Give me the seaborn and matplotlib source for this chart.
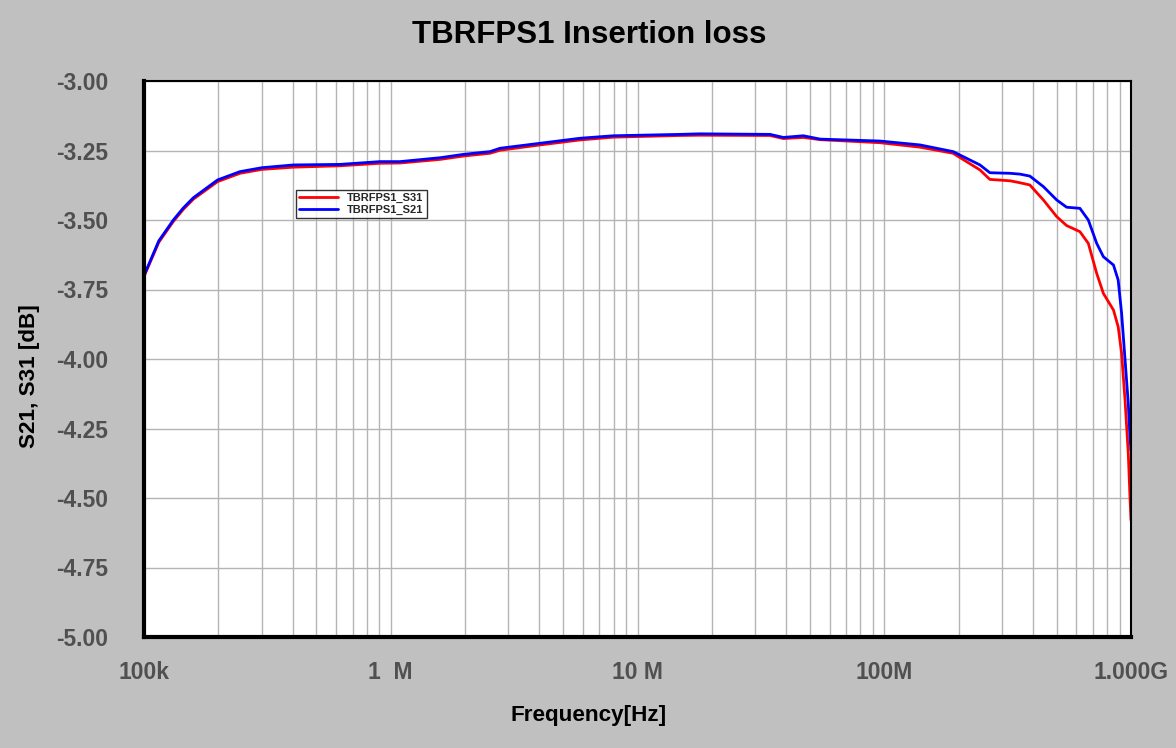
import seaborn as sns
import matplotlib.pyplot as plt
import pandas as pd
import numpy as np

sns.set_style("whitegrid")
plt.rcParams['font.family'] = ['Liberation Sans', 'DejaVu Sans']

# frequency points as log10(Hz)
log_freq = [5.000, 5.060, 5.119, 5.159, 5.200, 5.298, 5.389, 5.477, 5.605, 5.794,
            5.956, 6.037, 6.200, 6.294, 6.402, 6.443, 6.605, 6.767, 6.902, 7.172,
            7.253, 7.537, 7.591, 7.672, 7.740, 7.983, 8.145, 8.279, 8.388, 8.428,
            8.510, 8.550, 8.590, 8.645, 8.699, 8.739, 8.793, 8.827, 8.861, 8.888,
            8.929, 8.948, 8.962, 8.976, 8.989, 8.996, 9.000]

s21 = [-3.700, -3.575, -3.500, -3.457, -3.420, -3.356, -3.326, -3.312, -3.302, -3.300,
       -3.290, -3.290, -3.276, -3.264, -3.254, -3.242, -3.224, -3.206, -3.197, -3.192,
       -3.190, -3.192, -3.203, -3.197, -3.209, -3.216, -3.230, -3.254, -3.302, -3.330,
       -3.332, -3.335, -3.342, -3.380, -3.428, -3.454, -3.458, -3.500, -3.584, -3.632,
       -3.662, -3.716, -3.836, -4.004, -4.160, -4.280, -4.330]

s31 = [-3.703, -3.580, -3.505, -3.462, -3.425, -3.362, -3.332, -3.318, -3.310, -3.305,
       -3.296, -3.295, -3.282, -3.270, -3.260, -3.249, -3.230, -3.212, -3.202, -3.196,
       -3.195, -3.196, -3.207, -3.203, -3.211, -3.222, -3.238, -3.260, -3.320, -3.354,
       -3.359, -3.366, -3.374, -3.428, -3.488, -3.520, -3.542, -3.584, -3.692, -3.764,
       -3.824, -3.884, -3.980, -4.150, -4.340, -4.500, -4.580]

freq = 10 ** np.array(log_freq)
df = pd.concat([
    pd.DataFrame({"freq": freq, "val": s31, "series": "TBRFPS1_S31"}),
    pd.DataFrame({"freq": freq, "val": s21, "series": "TBRFPS1_S21"}),
])

fig = plt.figure(figsize=(11.76, 7.48), dpi=100, facecolor="#c0c0c0")
ax = fig.add_axes([144/1176, 1-637/748, (1131-144)/1176, (637-81)/748])
ax.set_facecolor("white")

sns.lineplot(data=df, x="freq", y="val", hue="series",
             palette={"TBRFPS1_S31": "#ff0000", "TBRFPS1_S21": "#0000ff"},
             linewidth=2, ax=ax, sort=False)

ax.set_xscale("log")
ax.set_xlim(1e5, 1e9)
ax.set_ylim(-5.0, -3.0)

ax.set_xticks([1e5, 1e6, 1e7, 1e8, 1e9])
ax.set_xticklabels(["100k", "1  M", "10 M", "100M", "1.000G"])
yt = np.arange(-5.0, -2.99, 0.25)
ax.set_yticks(yt)
ax.set_yticklabels([f"{v:.2f}" for v in yt])
ax.tick_params(axis="both", labelsize=16.5, colors="#505050", length=0)
ax.tick_params(axis="y", pad=26)
ax.tick_params(axis="x", pad=17)
for lab in ax.get_xticklabels() + ax.get_yticklabels():
    lab.set_fontweight("bold")

ax.grid(True, which="major", color="#b4b4b4", linewidth=1)
ax.grid(True, which="minor", axis="x", color="#b4b4b4", linewidth=1)
ax.minorticks_on()
ax.tick_params(which="minor", length=0)
ax.yaxis.set_minor_locator(plt.NullLocator())

for side in ["left", "bottom", "right", "top"]:
    ax.spines[side].set_color("black")
    ax.spines[side].set_linewidth(1.5)
ax.spines["left"].set_linewidth(3)
ax.spines["bottom"].set_linewidth(3)

ax.set_xlabel("")
ax.set_ylabel("")
fig.text(589/1176, 1-35/748, "TBRFPS1 Insertion loss", ha="center", va="center",
         fontsize=22.5, fontweight="bold", color="black")
fig.text(30/1176, 1-376/748, "S21, S31 [dB]", ha="center", va="center",
         rotation=90, fontsize=16.2, fontweight="bold", color="black")
fig.text(589/1176, 1-715/748, "Frequency[Hz]", ha="center", va="center",
         fontsize=16.2, fontweight="bold", color="black")

leg = ax.legend(loc="upper left", bbox_to_anchor=((296-144)/987, 1-(190-81)/556),
                fontsize=8, frameon=True, fancybox=False, borderpad=0.3,
                handlelength=3.5, labelspacing=0.1, borderaxespad=0)
leg.get_frame().set_edgecolor("black")
leg.get_frame().set_linewidth(1)
for t in leg.get_texts():
    t.set_fontweight("bold")

fig.savefig("out.png", dpi=100, facecolor=fig.get_facecolor())
plt.close()
